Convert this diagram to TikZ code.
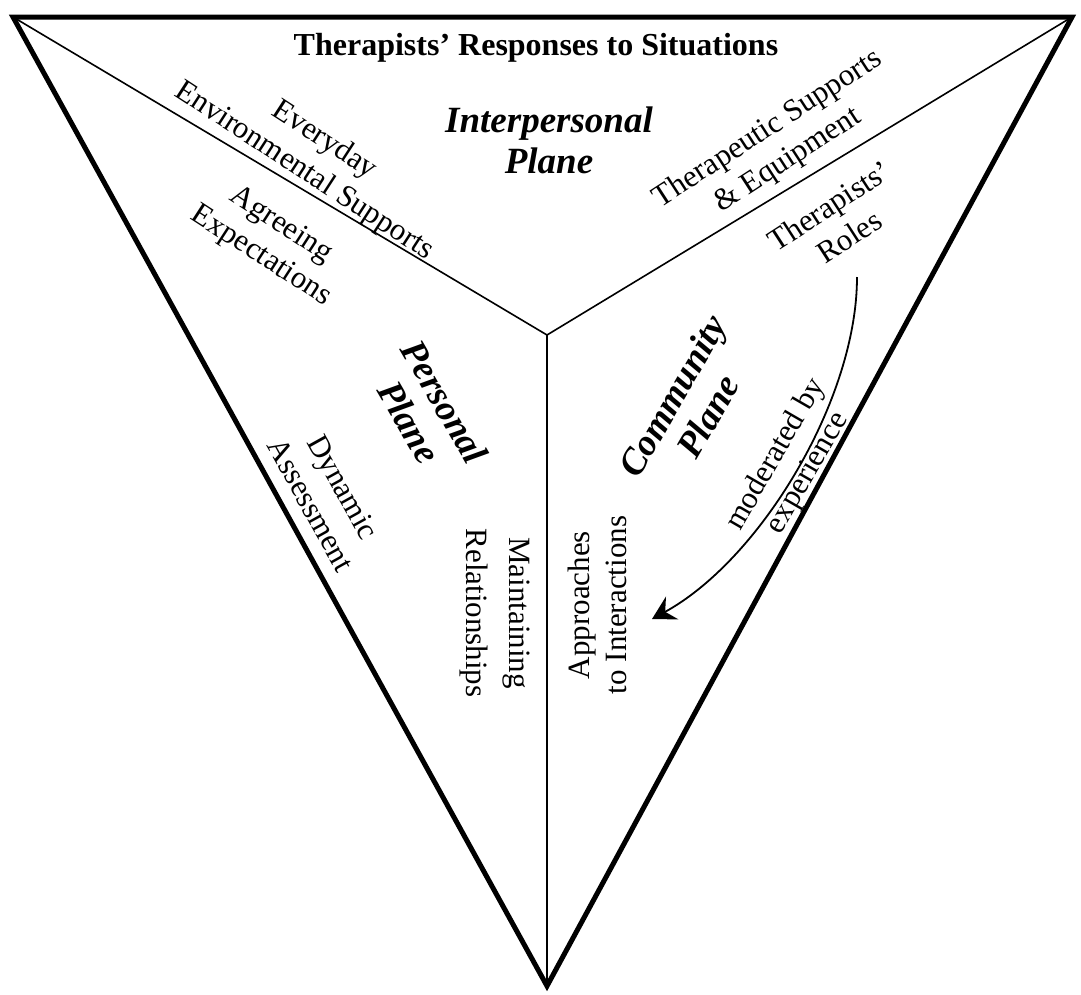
\documentclass[tikz,border=0pt]{standalone}
\usepackage{fontspec}
\setmainfont{Liberation Serif}
\usetikzlibrary{arrows.meta}

\tikzset{
  edge/.style={line width=5pt, line join=miter},
  inner/.style={line width=1.6pt},
  lbl/.style={font=\fontsize{31}{37}\selectfont, align=center, inner sep=0pt},
  plane/.style={font=\fontsize{37}{41}\selectfont\bfseries\itshape, align=center, inner sep=0pt},
  heading/.style={font=\fontsize{32}{36}\selectfont\bfseries, inner sep=0pt},
  bendarrow/.style={line width=1.8pt, -{Stealth[length=23pt, width=26pt, inset=8pt]}}
}

\begin{document}
\begin{tikzpicture}[x=1pt, y=-1pt]
        \useasboundingbox[fill=white] (0,0) rectangle (1081,994);
        \coordinate (tl) at (13,17);
        \coordinate (tr) at (1072,17);
        \coordinate (bot) at (547,986);
        \coordinate (mid) at (547,335);
        \foreach \c in {tl, tr, bot} {
          \draw[inner] (mid) -- (\c);
        }
        \draw[edge] (tl) -- (tr) -- (bot) -- cycle;

        % planes
        \node[heading] (title) at (536,48) {Therapists' Responses to Situations};
        \node[plane] (interp) at (549,140) {Interpersonal\\Plane};
        \node[plane, rotate=-60] (personal) at (427,412) {Personal\\Plane};
        \node[plane, rotate=60] (community) at (690,406) {Community\\Plane};

        % themes
        \node[lbl, rotate=-33] (everyday) at (314,156) {Everyday\\Environmental Supports};
        \node[lbl, rotate=-33] (agreeing) at (271,241) {Agreeing\\Expectations};
        \node[lbl, rotate=33] (therasupp) at (778,145) {Therapeutic Supports\\\& Equipment};
        \node[lbl, rotate=33] (roles) at (839,221) {Therapists'\\Roles};
        \node[lbl, rotate=-61] (dynamic) at (327,496) {Dynamic\\Assessment};
        \node[lbl, rotate=-90, font=\fontsize{31}{43}\selectfont] (maintain) at (495,613) {Maintaining\\Relationships};
        \node[lbl, rotate=90] (approach) at (597,605) {Approaches\\to Interactions};
        \node[lbl, rotate=60] (moderated) at (792,464) {moderated by\\experience};

        \coordinate (rolesend) at (857,277);
        \coordinate (approachend) at (652,619);
        \draw[bendarrow] (rolesend) .. controls (857,400) and (760,560) .. (approachend);
      \end{tikzpicture}
\end{document}
